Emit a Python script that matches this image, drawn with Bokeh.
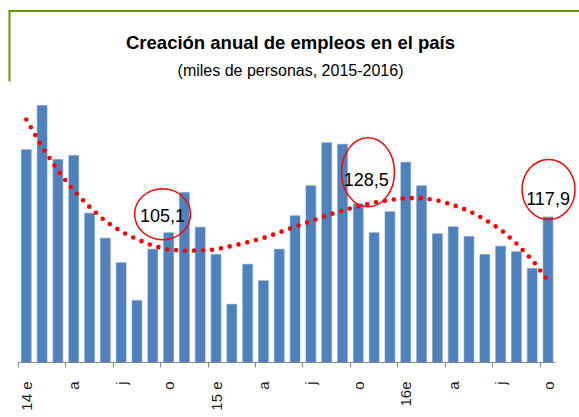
from bokeh.plotting import figure
from bokeh.models import FixedTicker, Label, BoxAnnotation, ColumnDataSource
from bokeh.core.properties import value
from bokeh.embed import file_html
from bokeh.resources import INLINE
import math

# ---- data ----
months = ["e", "f", "m", "a", "m", "j", "j", "a", "s", "o", "n", "d"]
years = ["14", "15", "16"]
jobs = [172.3, 208.2, 164.4, 167.7, 120.9, 100.7, 80.8, 50.2, 91.8, 105.1, 137.7, 109.6,
        87.5, 47.2, 79.6, 66.2, 91.8, 118.8, 143.1, 178.0, 176.8, 128.5, 105.1, 122.1,
        162.2, 143.1, 104.2, 109.9, 102.1, 87.5, 94.2, 89.7, 76.1, 117.9]
trend = [196.8, 174.6, 155.3, 139.1, 126.0, 114.5, 106.0, 99.8, 94.5, 91.5, 90.5, 90.7,
         91.6, 94.4, 97.4, 100.8, 105.3, 109.9, 114.4, 119.1, 123.1, 126.5, 129.5, 131.6,
         133.1, 133.1, 131.3, 127.6, 122.7, 115.8, 107.7, 96.4, 83.0, 66.4]
tick_labels = ["14 e", "a", "j", "o", "15 e", "a", "j", "o", "16e", "a", "j", "o"]
highlight_idx = [9, 21, 33]
title_text = "Creación anual de empleos en el país"
subtitle_text = "(miles de personas, 2015-2016)"

# ---- layout (pixels) ----
W, H = 579, 417
bottom_border = 55
px_per_cat = 15.81
left_pad = 17.9         # frame left -> first category boundary
vpp = 0.8099            # value per pixel
frame_h = H - bottom_border

x_start = -0.5 - left_pad / px_per_cat
x_end = x_start + W / px_per_cat
y_end = frame_h * vpp

p = figure(width=W, height=H, output_backend="svg", toolbar_location=None,
           x_range=(x_start, x_end), y_range=(0, y_end), y_axis_location=None,
           min_border_left=0, min_border_right=0, min_border_top=0,
           min_border_bottom=bottom_border)
p.outline_line_color = None
p.grid.visible = False
p.background_fill_color = "white"
p.border_fill_color = "white"

n = len(jobs)
xs = list(range(n))
src = ColumnDataSource(dict(x=xs, top=jobs, trend=trend))
p.vbar(x="x", top="top", width=0.62, bottom=0, source=src,
       fill_color="#4F81BD", line_color="#6D95C8", line_width=0.6)

p.line(x="x", y="trend", source=src, line_color="#FF0000", line_width=4.6,
       line_dash="0 9", line_cap="round")

# ---- x axis ----
ax = p.xaxis[0]
ax.bounds = (-0.5, n - 0.5)
label_pos = list(range(0, n, 3))
ax.ticker = FixedTicker(ticks=label_pos, minor_ticks=[t - 0.5 for t in label_pos])
ax.major_label_overrides = {t: lab for t, lab in zip(label_pos, tick_labels)}
ax.major_label_orientation = math.pi / 2
ax.major_tick_line_color = None
ax.major_tick_out = 0
ax.major_tick_in = 0
ax.minor_tick_line_color = "#868686"
ax.minor_tick_out = 5
ax.minor_tick_in = 0
ax.axis_line_color = "#868686"
ax.axis_line_width = 1
ax.major_label_standoff = 14
ax.major_label_text_font = "Liberation Sans"
ax.major_label_text_font_size = "15px"
ax.major_label_text_color = "#1a1a1a"

# ---- highlighted labels with ellipses ----
lab_dx = [-6, 8, 0]
lab_dy = [17, 24, 18]
ell_dx = [-6, 9.7, 0.5]
ell_dy = [18.5, 31.6, 27.4]
ell_w = [56, 53, 53]
ell_h = [51, 69, 60]
hx = [highlight_idx[k] + lab_dx[k] / px_per_cat for k in range(3)]
hy = [jobs[i] + lab_dy[k] * vpp for k, i in enumerate(highlight_idx)]
htxt = [f"{jobs[i]:.1f}".replace(".", ",") for i in highlight_idx]
ex = [highlight_idx[k] + ell_dx[k] / px_per_cat for k in range(3)]
ey = [jobs[i] + ell_dy[k] * vpp for k, i in enumerate(highlight_idx)]
p.ellipse(x=ex, y=ey, width=ell_w, height=ell_h, width_units="screen",
          height_units="screen", fill_color=None, line_color="#FF0000", line_width=1.5)
p.text(x=hx, y=hy, text=htxt, text_align="center", text_baseline="middle",
       text_font=value("Liberation Sans"), text_font_size="18px", text_color="#000000")

# ---- title & frame decoration (screen units measured from frame bottom) ----
def sy(y_top):
    return frame_h - y_top

p.add_layout(Label(x=290, y=sy(42), x_units="screen", y_units="screen",
                   text=title_text, text_align="center",
                   text_baseline="middle", text_font="Liberation Sans",
                   text_font_style="bold", text_font_size="18.5px", text_color="#000000"))
p.add_layout(Label(x=290, y=sy(70), x_units="screen", y_units="screen",
                   text=subtitle_text, text_align="center",
                   text_baseline="middle", text_font="Liberation Sans",
                   text_font_size="16px", text_color="#000000"))
p.add_layout(BoxAnnotation(left=8, right=W, top=sy(9.5), bottom=sy(11.5),
                           left_units="screen", right_units="screen",
                           top_units="screen", bottom_units="screen",
                           fill_color="#669900", fill_alpha=1, line_color=None))
p.add_layout(BoxAnnotation(left=8, right=10, top=sy(10), bottom=sy(81),
                           left_units="screen", right_units="screen",
                           top_units="screen", bottom_units="screen",
                           fill_color="#669900", fill_alpha=1, line_color=None))

open("out.html", "w").write(file_html(p, INLINE))
